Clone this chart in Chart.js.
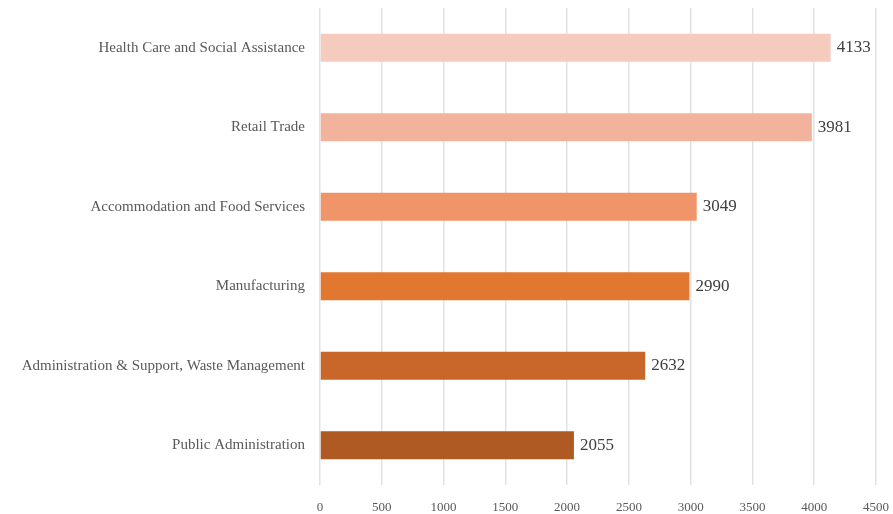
<!DOCTYPE html>
<html>
<head>
<meta charset="utf-8">
<script src="https://cdn.jsdelivr.net/npm/chart.js@4.4.1/dist/chart.umd.min.js"></script>
<style>
html,body{margin:0;padding:0;background:#fff;}
#wrap{width:893px;height:514px;position:relative;}
</style>
</head>
<body>
<div id="wrap"><canvas id="c" width="893" height="514"></canvas></div>
<script>
const categories = [
  "Health Care and Social Assistance",
  "Retail Trade",
  "Accommodation and Food Services",
  "Manufacturing",
  "Administration & Support, Waste Management",
  "Public Administration"
];
const values = [4133, 3981, 3049, 2990, 2632, 2055];
const barColors = ["#F5CBBD", "#F2B39C", "#F0956A", "#E2772F", "#C9672A", "#AE5A22"];
const xTicks = [0, 500, 1000, 1500, 2000, 2500, 3000, 3500, 4000, 4500];

const FONT = "'Liberation Serif', 'DejaVu Serif', serif";

const valueLabels = {
  id: 'valueLabels',
  afterDatasetsDraw(chart) {
    const ctx = chart.ctx;
    const meta = chart.getDatasetMeta(0);
    ctx.save();
    ctx.font = "17px " + FONT;
    ctx.fillStyle = "#404040";
    ctx.textAlign = "left";
    ctx.textBaseline = "middle";
    meta.data.forEach((bar, i) => {
      ctx.fillText(String(values[i]), bar.x + 6, bar.y);
    });
    ctx.restore();
  }
};

new Chart(document.getElementById('c'), {
  type: 'bar',
  data: {
    labels: categories,
    datasets: [{
      data: values,
      backgroundColor: barColors,
      borderWidth: 0,
      categoryPercentage: 1,
      barPercentage: 0.35
    }]
  },
  options: {
    indexAxis: 'y',
    responsive: false,
    animation: false,
    devicePixelRatio: 1,
    layout: { padding: { top: 8, right: 17, bottom: 0, left: 0 } },
    plugins: { legend: { display: false }, tooltip: { enabled: false } },
    scales: {
      x: {
        min: 0, max: 4500,
        afterBuildTicks(scale) { scale.ticks = xTicks.map(v => ({ value: v })); },
        afterFit(scale) { scale.height = 29; scale.paddingLeft = 0; scale.paddingRight = 0; },
        grid: { color: "#E2E2E2", lineWidth: 1.5, drawTicks: false },
        border: { display: false },
        ticks: { color: "#595959", font: { family: FONT, size: 13 }, padding: 15, maxRotation: 0,
                 callback: (v) => String(v) }
      },
      y: {
        grid: { display: false, drawTicks: false },
        border: { display: false },
        afterFit(scale) { scale.width = 320; scale.paddingTop = 0; scale.paddingBottom = 0; },
        ticks: { color: "#595959", font: { family: FONT, size: 15 }, padding: 15 }
      }
    }
  },
  plugins: [valueLabels]
});
</script>
</body>
</html>
